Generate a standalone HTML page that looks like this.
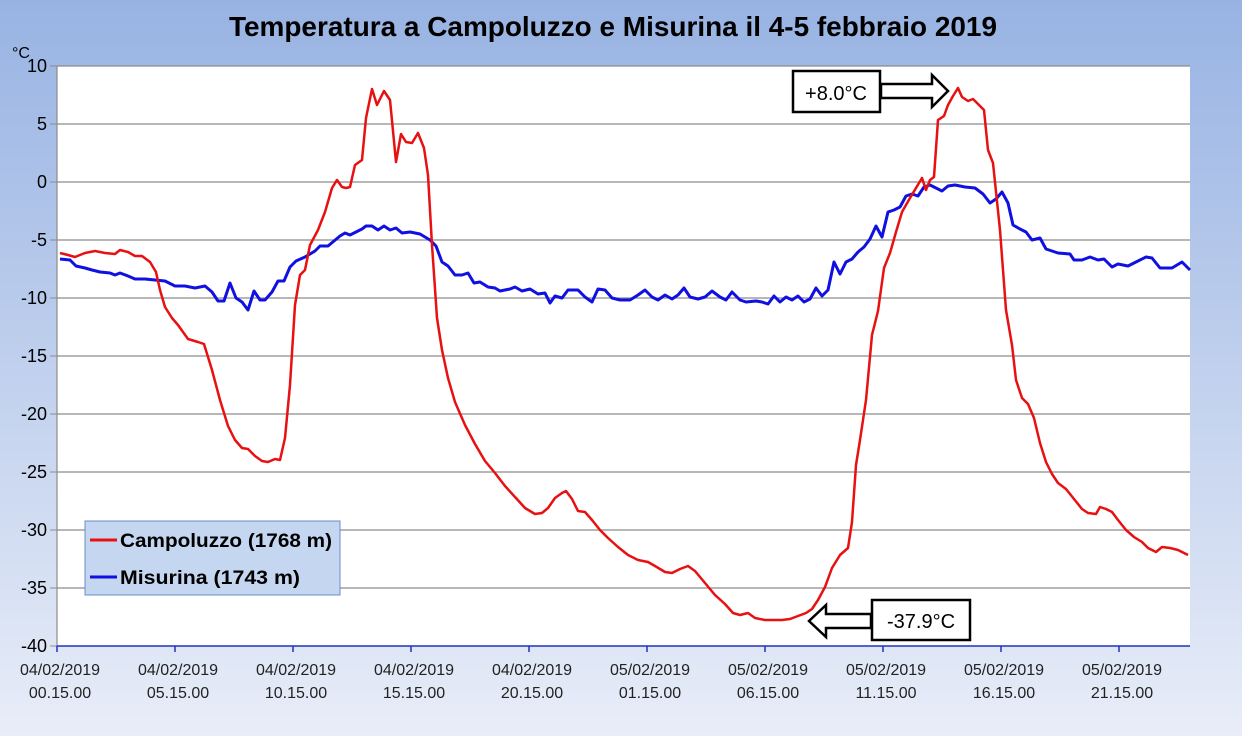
<!DOCTYPE html>
<html><head><meta charset="utf-8"><style>
body{margin:0;width:1242px;height:736px;overflow:hidden}
svg{display:block}
</style></head><body>
<svg width="1242" height="736" xmlns="http://www.w3.org/2000/svg" font-family="Liberation Sans, sans-serif">
<defs><linearGradient id="bg" x1="0" y1="0" x2="0" y2="1"><stop offset="0" stop-color="#98b3e3"/><stop offset="1" stop-color="#e8edf8"/></linearGradient></defs>
<rect width="1242" height="736" fill="url(#bg)"/>
<text x="613" y="36" text-anchor="middle" font-size="28" font-weight="bold" textLength="768" lengthAdjust="spacingAndGlyphs">Temperatura a Campoluzzo e Misurina il 4-5 febbraio 2019</text>
<text x="12" y="58" font-size="16">°C</text>
<rect x="57" y="66" width="1133" height="580" fill="#fff"/>
<g stroke="#8c8c8c" stroke-width="1.2">
<line x1="57" x2="1190" y1="66" y2="66"/><line x1="57" x2="1190" y1="124" y2="124"/><line x1="57" x2="1190" y1="182" y2="182"/><line x1="57" x2="1190" y1="240" y2="240"/><line x1="57" x2="1190" y1="298" y2="298"/><line x1="57" x2="1190" y1="356" y2="356"/><line x1="57" x2="1190" y1="414" y2="414"/><line x1="57" x2="1190" y1="472" y2="472"/><line x1="57" x2="1190" y1="530" y2="530"/><line x1="57" x2="1190" y1="588" y2="588"/>
<line x1="57" x2="57" y1="66" y2="646"/>
</g>
<g stroke="#8c8c8c"><line x1="50" x2="57" y1="66" y2="66"/><line x1="50" x2="57" y1="124" y2="124"/><line x1="50" x2="57" y1="182" y2="182"/><line x1="50" x2="57" y1="240" y2="240"/><line x1="50" x2="57" y1="298" y2="298"/><line x1="50" x2="57" y1="356" y2="356"/><line x1="50" x2="57" y1="414" y2="414"/><line x1="50" x2="57" y1="472" y2="472"/><line x1="50" x2="57" y1="530" y2="530"/><line x1="50" x2="57" y1="588" y2="588"/><line x1="50" x2="57" y1="646" y2="646"/></g>
<line x1="57" x2="1190" y1="646" y2="646" stroke="#2030c0" stroke-width="1.5"/>
<g stroke="#2030c0" stroke-width="1.5"><line x1="57" x2="57" y1="646" y2="652"/><line x1="175" x2="175" y1="646" y2="652"/><line x1="293" x2="293" y1="646" y2="652"/><line x1="411" x2="411" y1="646" y2="652"/><line x1="529" x2="529" y1="646" y2="652"/><line x1="647" x2="647" y1="646" y2="652"/><line x1="765" x2="765" y1="646" y2="652"/><line x1="883" x2="883" y1="646" y2="652"/><line x1="1001" x2="1001" y1="646" y2="652"/><line x1="1119" x2="1119" y1="646" y2="652"/></g>
<g font-size="18" text-anchor="end">
<text x="47" y="72">10</text><text x="47" y="130">5</text><text x="47" y="188">0</text><text x="47" y="246">-5</text><text x="47" y="304">-10</text><text x="47" y="362">-15</text><text x="47" y="420">-20</text><text x="47" y="478">-25</text><text x="47" y="536">-30</text><text x="47" y="594">-35</text><text x="47" y="652">-40</text>
</g>
<g font-size="16" text-anchor="middle" fill="#222">
<text x="60" y="675">04/02/2019</text><text x="60" y="698">00.15.00</text>
<text x="178" y="675">04/02/2019</text><text x="178" y="698">05.15.00</text>
<text x="296" y="675">04/02/2019</text><text x="296" y="698">10.15.00</text>
<text x="414" y="675">04/02/2019</text><text x="414" y="698">15.15.00</text>
<text x="532" y="675">04/02/2019</text><text x="532" y="698">20.15.00</text>
<text x="650" y="675">05/02/2019</text><text x="650" y="698">01.15.00</text>
<text x="768" y="675">05/02/2019</text><text x="768" y="698">06.15.00</text>
<text x="886" y="675">05/02/2019</text><text x="886" y="698">11.15.00</text>
<text x="1004" y="675">05/02/2019</text><text x="1004" y="698">16.15.00</text>
<text x="1122" y="675">05/02/2019</text><text x="1122" y="698">21.15.00</text>
</g>
<polyline fill="none" stroke="#1010e0" stroke-width="3" stroke-linejoin="round" points="60,259 70,260 76,266 85,268 92,270 100,272 110,273 115,275 120,273 128,276 135,279 145,279 155,280 165,281 175,286 185,286 195,288 205,286 212,292 218,301 224,301 230,283 236,298 242,302 248,310 254,291 260,300 265,300 272,292 278,281 284,281 290,267 296,261 305,257 315,251 320,246 328,246 334,241 340,236 345,233 350,235 356,232 362,229 366,226 372,226 378,230 384,226 390,230 396,228 402,233 410,232 420,234 430,240 436,246 442,262 448,266 455,275 462,275 468,273 474,283 480,282 488,287 495,288 500,291 510,289 515,287 522,291 530,289 538,294 545,293 550,303 555,296 562,298 568,290 578,290 585,297 592,302 598,289 605,290 612,298 620,300 630,300 638,295 645,290 652,297 658,300 665,295 672,299 678,295 684,288 690,297 698,299 705,297 712,291 720,297 726,300 732,292 740,300 746,302 756,301 762,302 768,304 774,296 780,302 786,297 792,300 798,296 804,302 810,299 816,288 822,296 828,290 834,262 840,274 846,262 852,259 858,252 864,247 870,239 876,226 882,237 888,212 894,210 900,207 906,196 912,194 918,196 924,187 930,185 936,188 942,191 948,186 955,185 965,187 975,188 983,194 990,203 996,199 1002,192 1008,203 1013,225 1020,229 1026,232 1032,240 1040,238 1046,249 1058,253 1070,254 1074,260 1082,260 1090,257 1098,260 1104,259 1112,267 1118,264 1128,266 1138,261 1146,257 1152,258 1160,268 1172,268 1182,262 1190,270"/>
<polyline fill="none" stroke="#e81010" stroke-width="2.5" stroke-linejoin="round" points="60,253 68,255 75,257 85,253 95,251 105,253 115,254 120,250 128,252 135,256 142,256 150,262 156,272 160,290 165,307 172,318 178,325 188,339 198,342 204,344 212,370 220,400 228,426 235,440 242,448 248,449 255,456 262,461 268,462 275,459 280,460 285,438 290,385 295,305 300,275 305,270 310,245 318,230 325,212 332,188 337,180 342,187 346,188 350,187 355,165 362,160 366,118 372,89 377,105 384,91 390,100 396,162 401,134 406,142 412,143 418,133 424,148 428,175 432,245 437,318 442,350 448,378 455,402 465,425 475,444 485,461 495,473 505,486 515,497 525,508 535,514 542,513 548,508 555,498 562,493 566,491 572,499 578,511 585,512 592,520 600,530 608,538 618,547 628,555 638,560 648,562 655,566 665,572 672,573 680,569 688,566 695,571 705,583 715,595 725,604 733,613 740,615 748,613 755,618 765,620 775,620 782,620 790,619 798,616 806,613 812,609 818,600 825,587 832,568 840,555 848,548 852,522 856,465 860,440 866,400 872,335 878,311 884,268 890,253 896,232 902,212 906,205 910,198 916,188 922,178 926,190 930,180 934,177 938,120 944,116 948,105 953,96 958,88 962,97 968,101 973,99 978,104 984,110 988,150 993,163 1000,230 1006,310 1012,345 1016,380 1022,398 1028,404 1034,418 1040,443 1046,462 1052,474 1058,483 1066,489 1074,499 1082,509 1088,513 1096,514 1100,507 1106,509 1112,512 1118,520 1126,530 1134,537 1142,542 1148,548 1156,552 1162,547 1170,548 1178,550 1188,555"/>
<rect x="85" y="521" width="255" height="74" fill="#c5d7f0" stroke="#6a8cc8" stroke-width="1"/>
<line x1="90" x2="117" y1="540" y2="540" stroke="#e81010" stroke-width="3"/>
<line x1="90" x2="117" y1="577" y2="577" stroke="#1010e0" stroke-width="3"/>
<text x="120" y="547" font-size="19" font-weight="bold" textLength="212" lengthAdjust="spacingAndGlyphs">Campoluzzo (1768 m)</text>
<text x="120" y="584" font-size="19" font-weight="bold" textLength="180" lengthAdjust="spacingAndGlyphs">Misurina (1743 m)</text>
<rect x="793" y="71" width="87" height="41" fill="#fff" stroke="#000" stroke-width="2.5"/>
<text x="836" y="100" font-size="20" text-anchor="middle">+8.0°C</text>
<polygon points="881,84 932,84 932,75 948,91 932,107 932,98 881,98" fill="#fff" stroke="#000" stroke-width="2.5"/>
<rect x="872" y="600" width="98" height="40" fill="#fff" stroke="#000" stroke-width="2.5"/>
<text x="921" y="628" font-size="20" text-anchor="middle">-37.9°C</text>
<polygon points="871,614 826,614 826,605 809,621 826,637 826,628 871,628" fill="#fff" stroke="#000" stroke-width="2.5"/>
</svg>
</body></html>
